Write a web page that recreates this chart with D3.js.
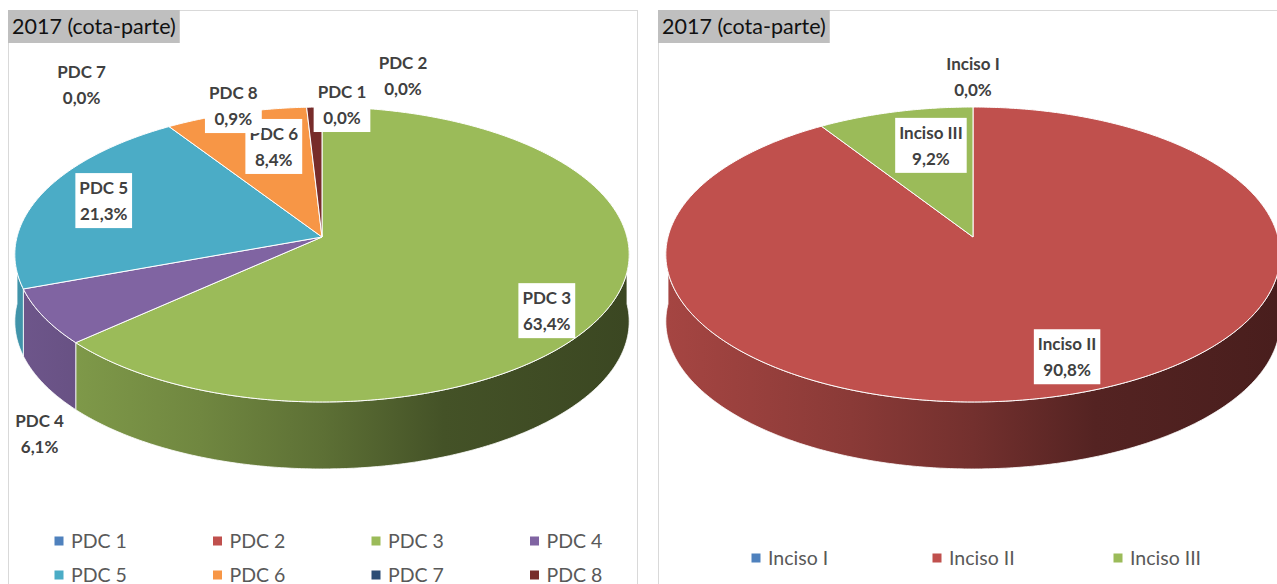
<!DOCTYPE html>
<html>
<head>
<meta charset="utf-8">
<script src="https://cdn.jsdelivr.net/npm/d3@7"></script>
<style>
  body { margin: 0; background: #fff; }
  svg { display: block; font-family: Lato, "Open Sans", sans-serif; }
</style>
</head>
<body>
<svg id="chart" width="1277" height="584"></svg>
<script>
// data
const pdcNames = ["PDC 1", "PDC 2", "PDC 3", "PDC 4", "PDC 5", "PDC 6", "PDC 7", "PDC 8"];
const pdcValues = [0.0, 0.0, 63.4, 6.1, 21.3, 8.4, 0.0, 0.9];
const incisoNames = ["Inciso I", "Inciso II", "Inciso III"];
const incisoValues = [0.0, 90.8, 9.2];
const titleText = "2017 (cota-parte)";

// office palette
const pdcColors = ["#4F81BD", "#C0504D", "#9BBB59", "#8064A2", "#4BACC6", "#F79646", "#2C4D75", "#772C2A"];
const incisoColors = ["#4F81BD", "#C0504D", "#9BBB59"];

// label placement: offset from the rim point at the slice mid angle, and whether it gets a white box
const pdcLabelOffset = [[20, -3], [81, -32], [-68, 11], [-4, 116], [61, 7], [38, 33], [-225, -23], [-81, -2]];
const pdcLabelBoxed = [true, false, true, false, true, true, false, true];
const incisoLabelOffset = [[0, -31], [-4, -38], [36, 33]];
const incisoLabelBoxed = [false, true, true];

const svg = d3.select("#chart");
const defs = svg.append("defs");
const fmt = d3.formatLocale({ decimal: ",", thousands: ".", grouping: [3], currency: ["", ""] }).format(".1f");

// perspective-ish projection of a tilted disc
const A = 305, B = 145.4, K = 0.1186, H = 67;

function shade(c, f) {
  const r = d3.rgb(c);
  return d3.rgb(r.r * f, r.g * f, r.b * f).formatHex();
}

function drawFrame(x0, x1) {
  svg.append("rect")
    .attr("x", x0 + 0.5).attr("y", 10.5)
    .attr("width", x1 - x0).attr("height", 620)
    .attr("fill", "none").attr("stroke", "#d9d9d9");
  const t = svg.append("text")
    .attr("x", x0 + 4).attr("y", 34)
    .attr("font-size", 21.5).attr("fill", "#111")
    .text(titleText);
  const w = t.node().getComputedTextLength();
  svg.insert("rect", () => t.node())
    .attr("x", x0).attr("y", 10)
    .attr("width", w + 8).attr("height", 33)
    .attr("fill", "#bfbfbf");
}

function drawPie(id, cx, cy, names, values, colors, offsets, boxed) {
  const g = svg.append("g");
  const proj = (a, dy = 0) => {
    const u = Math.sin(a), v = -Math.cos(a);
    const den = 1 - K * v;
    return [cx + A * u / den, cy + B * v / den + dy];
  };
  const rim = (a0, a1, dy) => {
    const n = Math.max(2, Math.ceil((a1 - a0) / 0.01));
    return d3.range(n + 1).map(i => proj(a0 + (a1 - a0) * i / n, dy));
  };
  const line = d3.line();

  const arcs = d3.pie().sort(null).value(d => d.value)(
    names.map((name, i) => ({ name, value: values[i], color: colors[i], i }))
  );

  // side walls (only the front half is visible)
  arcs.forEach(d => {
    const s = Math.max(d.startAngle, Math.PI / 2);
    const e = Math.min(d.endAngle, 3 * Math.PI / 2);
    if (s >= e) return;
    const gid = `${id}-side-${d.index}`;
    const grad = defs.append("linearGradient")
      .attr("id", gid).attr("gradientUnits", "userSpaceOnUse")
      .attr("x1", cx - A).attr("x2", cx + A).attr("y1", 0).attr("y2", 0);
    [[0, 0.86], [0.3, 0.72], [0.5, 0.6], [0.7, 0.44], [1, 0.38]].forEach(([o, f]) =>
      grad.append("stop").attr("offset", o).attr("stop-color", shade(d.data.color, f)));
    const pts = rim(s, e, 0).concat(rim(s, e, H).reverse());
    g.append("path")
      .attr("d", line(pts) + "Z")
      .attr("fill", `url(#${gid})`)
      .attr("stroke", "#fff").attr("stroke-width", 0.8).attr("stroke-linejoin", "round");
  });

  // top faces
  arcs.forEach(d => {
    if (d.endAngle - d.startAngle <= 0) return;
    const pts = [[cx, cy]].concat(rim(d.startAngle, d.endAngle, 0));
    g.append("path")
      .attr("d", line(pts) + "Z")
      .attr("fill", d.data.color)
      .attr("stroke", "#fff").attr("stroke-width", 1).attr("stroke-linejoin", "round");
  });

  // data labels
  arcs.forEach(d => {
    const mid = (d.startAngle + d.endAngle) / 2;
    const p = proj(mid);
    const [dx, dy] = offsets[d.index];
    const lx = p[0] + dx, ly = p[1] + dy;
    const lg = g.append("g");
    const t = lg.append("text")
      .attr("text-anchor", "middle")
      .attr("font-size", 17).attr("font-weight", "bold").attr("fill", "#404040");
    t.append("tspan").attr("x", lx).attr("y", ly - 6).text(d.data.name);
    t.append("tspan").attr("x", lx).attr("y", ly + 20).text(fmt(d.data.value) + "%");
    if (boxed[d.index]) {
      const bb = t.node().getBBox();
      lg.insert("rect", "text")
        .attr("x", bb.x - 4).attr("y", ly - 27)
        .attr("width", bb.width + 8).attr("height", 55)
        .attr("fill", "#fff");
    }
  });
}

function drawLegend(names, colors, cols, x0, colW, y0, rowH) {
  const g = svg.append("g");
  names.forEach((name, i) => {
    const x = x0 + (i % cols) * colW;
    const y = y0 + Math.floor(i / cols) * rowH;
    g.append("rect").attr("x", x - 4.5).attr("y", y - 4.5).attr("width", 9).attr("height", 9).attr("fill", colors[i]);
    g.append("text").attr("x", x + 12).attr("y", y).attr("dy", "0.35em")
      .attr("font-size", 19.5).attr("fill", "#595959").text(name);
  });
}

drawFrame(8, 637);
drawFrame(658, 1290);

drawPie("l", 322, 237, pdcNames, pdcValues, pdcColors, pdcLabelOffset, pdcLabelBoxed);
drawPie("r", 973, 237, incisoNames, incisoValues, incisoColors, incisoLabelOffset, incisoLabelBoxed);

drawLegend(pdcNames, pdcColors, 4, 59, 158.5, 541, 34);
drawLegend(incisoNames, incisoColors, 3, 756, 181, 558, 0);
</script>
</body>
</html>
